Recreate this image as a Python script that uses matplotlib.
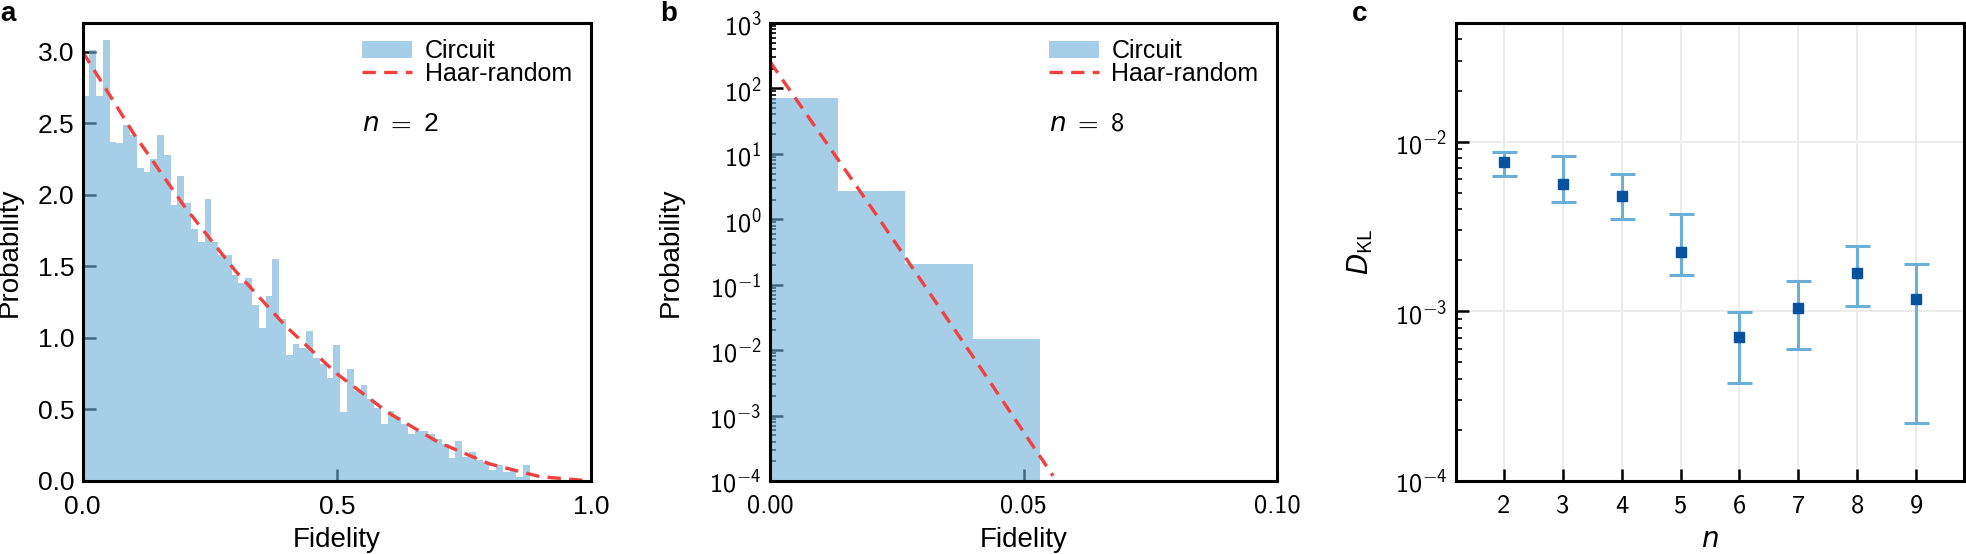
import numpy as np
import matplotlib
matplotlib.use('Agg')
import matplotlib.pyplot as plt
from matplotlib.ticker import FuncFormatter, LogLocator, NullFormatter

plt.rcParams['font.family'] = ['Liberation Sans', 'DejaVu Sans']
plt.rcParams['mathtext.fontset'] = 'custom'
plt.rcParams['mathtext.rm'] = 'cmss10'
plt.rcParams['mathtext.sf'] = 'cmss10'
plt.rcParams['mathtext.it'] = 'DejaVu Sans:italic'

# histograms use bins of width 1/75 starting at fidelity 0
bin_width = 1 / 75

# panel a: n = 2
hist_a = [2.69, 3.01, 2.69, 3.08, 2.37, 2.36, 2.49, 2.42, 2.19, 2.16,
          2.25, 2.42, 2.28, 1.93, 2.13, 1.94, 1.76, 1.67, 1.97, 1.67,
          1.58, 1.58, 1.44, 1.38, 1.42, 1.23, 1.07, 1.29, 1.55, 1.13,
          0.88, 0.96, 0.93, 1.05, 0.86, 0.82, 0.72, 0.95, 0.48, 0.78,
          0.63, 0.67, 0.57, 0.51, 0.40, 0.49, 0.45, 0.40, 0.33, 0.35,
          0.35, 0.33, 0.29, 0.26, 0.16, 0.28, 0.17, 0.20, 0.15, 0.13,
          0.08, 0.11, 0.06, 0.08, 0.03, 0.11]
haar_a_f = [0.0, 0.1, 0.2, 0.3, 0.4, 0.5, 0.6, 0.7, 0.8, 0.9, 1.0]
haar_a_p = [3.0, 2.43, 1.92, 1.47, 1.08, 0.75, 0.48, 0.27, 0.12, 0.03, 0.0]

# panel b: n = 8
hist_b = [72.0, 2.7, 0.21, 0.0149]
haar_b_f = [0.0, 0.02, 0.04, 0.0558]
haar_b_p = [255.0, 1.5, 8.0e-3, 1.2e-4]

# panel c: KL divergence vs number of qubits
n_qubits = [2, 3, 4, 5, 6, 7, 8, 9]
dkl = [7.6e-3, 5.6e-3, 4.8e-3, 2.23e-3, 7.05e-4, 1.04e-3, 1.67e-3, 1.18e-3]
dkl_lo = [6.3e-3, 4.4e-3, 3.5e-3, 1.64e-3, 3.8e-4, 6.0e-4, 1.07e-3, 2.2e-4]
dkl_hi = [8.7e-3, 8.2e-3, 6.4e-3, 3.76e-3, 9.9e-4, 1.5e-3, 2.42e-3, 1.9e-3]

bar_color = '#6baed6'
haar_color = '#f04040'
haar_dash = (4.0, 2.5)
fs = 19      # tick labels
fs_lab = 20  # axis labels


def style(ax):
    for s in ax.spines.values():
        s.set_linewidth(2.2)
    ax.set_axisbelow(True)
    ax.tick_params(which='major', direction='in', length=9, width=1.8,
                   top=False, right=False, labelsize=fs)
    ax.tick_params(which='minor', direction='in', length=4.5, width=1.2,
                   top=False, right=False)
    ax.tick_params(axis='x', pad=10)
    ax.tick_params(axis='y', pad=6)


def legend(ax):
    ax.legend(loc='upper left', bbox_to_anchor=(0.55, 0.965), frameon=False,
              fontsize=18, borderpad=0, labelspacing=-0.05, handlelength=2.0,
              handletextpad=0.5, borderaxespad=0)


fig = plt.figure(figsize=(19.66, 5.54), dpi=100)
ax_a = fig.add_axes([0.0420, 0.1318, 0.2586, 0.8267])
ax_b = fig.add_axes([0.3917, 0.1318, 0.2579, 0.8267])
ax_c = fig.add_axes([0.7406, 0.1318, 0.2584, 0.8267])

# a
edges_a = np.arange(len(hist_a) + 1) * bin_width
ax_a.hist(edges_a[:-1] + bin_width / 2, bins=edges_a, weights=hist_a,
          color=bar_color, alpha=0.6, label='Circuit')
ax_a.plot(haar_a_f, haar_a_p, color=haar_color, lw=2.4, dashes=haar_dash,
          label='Haar-random')
ax_a.set_xlim(0, 1)
ax_a.set_ylim(0, 3.2)
ax_a.set_xticks([0, 0.5, 1.0])
ax_a.set_yticks(np.arange(0, 3.01, 0.5))
style(ax_a)
ax_a.set_xlabel('Fidelity', fontsize=fs_lab)
ax_a.set_ylabel('Probability', fontsize=fs_lab)
ax_a.xaxis.set_label_coords(0.5, -0.1)
ax_a.yaxis.set_label_coords(-0.117, 0.5)
legend(ax_a)
ax_a.text(0.55, 0.78, r'$n\;=\;\mathdefault{2}$', transform=ax_a.transAxes,
          fontsize=fs, va='center', ha='left')

# b
edges_b = np.arange(len(hist_b) + 1) * bin_width
ax_b.hist(edges_b[:-1] + bin_width / 2, bins=edges_b, weights=hist_b,
          color=bar_color, alpha=0.6, label='Circuit')
ax_b.plot(haar_b_f, haar_b_p, color=haar_color, lw=2.4, dashes=haar_dash,
          label='Haar-random')
ax_b.set_yscale('log')
ax_b.set_xlim(0, 0.1)
ax_b.set_ylim(1e-4, 1e3)
ax_b.set_xticks([0, 0.05, 0.1])
ax_b.xaxis.set_major_formatter(FuncFormatter(lambda v, _: '%.2f' % v))
ax_b.yaxis.set_major_locator(LogLocator(base=10, numticks=20))
ax_b.yaxis.set_minor_locator(LogLocator(base=10, subs=np.arange(2, 10), numticks=20))
ax_b.yaxis.set_minor_formatter(NullFormatter())
ax_b.yaxis.set_major_formatter(
    FuncFormatter(lambda v, _: r'$\mathrm{10^{%d}}$' % round(np.log10(v))))
style(ax_b)
ax_b.tick_params(axis='x', labelfontfamily='cmss10')
ax_b.set_xlabel('Fidelity', fontsize=fs_lab)
ax_b.set_ylabel('Probability', fontsize=fs_lab)
ax_b.xaxis.set_label_coords(0.5, -0.1)
ax_b.yaxis.set_label_coords(-0.17, 0.5)
legend(ax_b)
ax_b.text(0.55, 0.78, r'$n\;=\;8$', transform=ax_b.transAxes, fontsize=fs,
          va='center', ha='left')

# c
yerr = [np.array(dkl) - np.array(dkl_lo), np.array(dkl_hi) - np.array(dkl)]
ax_c.errorbar(n_qubits, dkl, yerr=yerr, fmt='none', ecolor='#6baed6',
              elinewidth=2.2, capsize=9, capthick=2.2, zorder=2)
ax_c.plot(n_qubits, dkl, 's', color='#08519c', ms=7.5, zorder=3)
ax_c.set_yscale('log')
ax_c.set_xlim(1.19, 9.81)
ax_c.set_ylim(1e-4, 5e-2)
ax_c.set_xticks(n_qubits)
ax_c.yaxis.set_major_locator(LogLocator(base=10, numticks=20))
ax_c.yaxis.set_minor_locator(LogLocator(base=10, subs=np.arange(2, 10), numticks=20))
ax_c.yaxis.set_minor_formatter(NullFormatter())
ax_c.yaxis.set_major_formatter(
    FuncFormatter(lambda v, _: r'$\mathrm{10^{%d}}$' % round(np.log10(v))))
ax_c.grid(True, which='major', color='#ececec', lw=1.5)
style(ax_c)
ax_c.tick_params(axis='x', labelfontfamily='cmss10')
ax_c.set_xlabel('$n$', fontsize=fs_lab)
ax_c.set_ylabel(r'$D_{\mathrm{KL}}$', fontsize=fs_lab)
ax_c.xaxis.set_label_coords(0.5, -0.1)
ax_c.yaxis.set_label_coords(-0.16, 0.5)

for x, lab in [(0.0, 'a'), (0.3357, 'b'), (0.6877, 'c')]:
    fig.text(x, 0.962, lab, fontsize=20, fontweight='bold', va='baseline')

fig.savefig('out.png', dpi=100)
